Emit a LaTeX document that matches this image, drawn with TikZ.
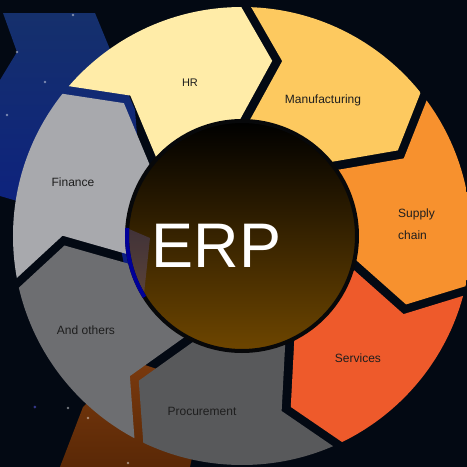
\documentclass[tikz,border=0pt]{standalone}
\usepackage{fontspec}
\setmainfont{Liberation Sans}
\begin{document}
\begin{tikzpicture}[x=1pt,y=1pt]
  \definecolor{bgnavy}{HTML}{030913}
  \definecolor{bandblueA}{HTML}{15306C}
  \definecolor{bandblueB}{HTML}{0A1C86}
  \definecolor{bandorA}{HTML}{7A3A0E}
  \definecolor{bandorB}{HTML}{5A2806}
  \definecolor{cHR}{HTML}{FFECA8}
  \definecolor{cManu}{HTML}{FDC95F}
  \definecolor{cSupply}{HTML}{F7912E}
  \definecolor{cServ}{HTML}{EE5A2B}
  \definecolor{cProc}{HTML}{58595B}
  \definecolor{cOthers}{HTML}{6D6E71}
  \definecolor{cFin}{HTML}{A8A9AD}
  \definecolor{hubbottom}{HTML}{6E4600}
  \definecolor{hubmid}{HTML}{1E1208}
  \definecolor{hubedge}{HTML}{07080A}
  \definecolor{labeltext}{HTML}{1E1E1E}
  \tikzset{
    lbl/.style={font=\fontsize{12}{14}\selectfont, text=labeltext, inner sep=0pt},
    star/.style={fill=white, opacity=0.45},
  }
  % ring piece: #1 = angle of its counter-clockwise boundary, #2 = colour
  \newcommand\ringpiece[2]{%
    \begin{scope}
      \clip (0,0) circle (229);
      \fill[#2] ([rotate=#1]300,41.3) -- ([rotate=#1]176,-35) -- ([rotate=#1]90,8.9)
        -- ([rotate=#1-51.43]90,18.9) -- ([rotate=#1-51.43]176,-25)
        -- ([rotate=#1-51.43]300,51.3) -- cycle;
    \end{scope}}

  \useasboundingbox (-242,-231) rectangle (225,236);
  % backdrop
  \fill[bgnavy] (-242,-231) rectangle (225,236);
  \shade[top color=bandblueA, bottom color=bandblueB]
    (-239,223) -- (-147,223) -- (-107,126) -- (-95,-20) -- (-112,-60)
    -- (-125,8) -- (-180,22) -- (-242,40) -- (-242,156) -- (-225,184) -- cycle;
  \shade[top color=bandorA, bottom color=bandorB]
    (-182,-231) -- (-159,-171) -- (-112,-124) -- (-67,-139) -- (-42,-184)
    -- (-52,-231) -- cycle;
  \foreach \sx/\sy in {-225/184, -197/154, -235/121, -169/221, -154/-182, -114/-227, -174/-172}
    \fill[star] (\sx,\sy) circle (1.3);
  \fill[fill=blue!60!white, opacity=0.5] (-207,-171) circle (1.5);

  % ring pieces
  \ringpiece{139.73}{cHR}
  \ringpiece{88.3}{cManu}
  \ringpiece{36.87}{cSupply}
  \ringpiece{-14.56}{cServ}
  \ringpiece{-65.99}{cProc}
  \ringpiece{-117.42}{cOthers}
  \ringpiece{-168.85}{cFin}

  % hub
  \shade[top color=black, middle color=hubmid, bottom color=hubbottom] (0,0) circle (115);
  \begin{scope}
    \clip (0,0) circle (115);
    \fill[blue!55!white, opacity=0.22] (-92,-2) -- (176:116) arc (176:212:116) -- cycle;
  \end{scope}
  \draw[hubedge, line width=4] (0,0) circle (115);
  \draw[blue!60!black, line width=4] (176:115) arc (176:212:115);

  \node[font=\fontsize{63}{63}\selectfont, text=white, inner sep=0pt, anchor=base]
    (erp) at (-25.5,-31) {ERP};

  % labels
  \node[lbl, font=\fontsize{11}{13}\selectfont] (hr) at (-52,153) {HR};
  \node[lbl] (manu) at (81,136) {Manufacturing};
  \node[lbl, align=left, anchor=west, font=\fontsize{12}{22}\selectfont] (supply) at (156,12) {Supply\\chain};
  \node[lbl] (serv) at (116,-122) {Services};
  \node[lbl] (proc) at (-40,-175) {Procurement};
  \node[lbl] (others) at (-156,-94) {And others};
  \node[lbl] (fin) at (-169,54) {Finance};
\end{tikzpicture}
\end{document}
